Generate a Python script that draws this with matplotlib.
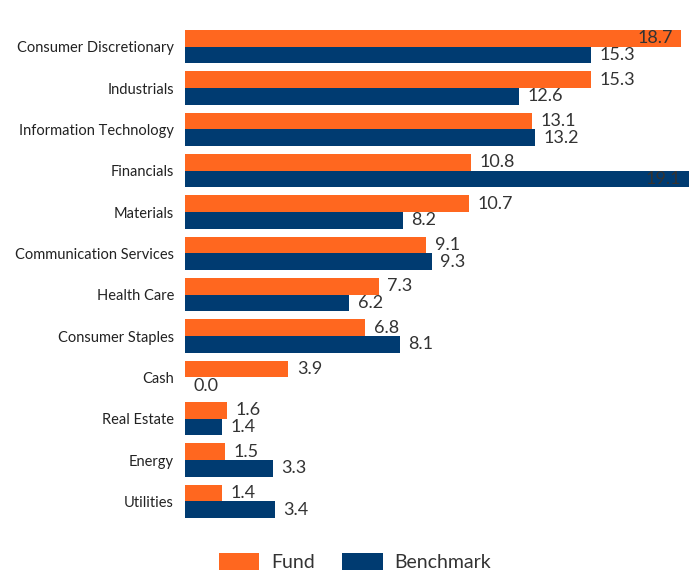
import matplotlib.pyplot as plt
import numpy as np

categories = ['Consumer Discretionary', 'Industrials', 'Information Technology',
              'Financials', 'Materials', 'Communication Services', 'Health Care',
              'Consumer Staples', 'Cash', 'Real Estate', 'Energy', 'Utilities']
fund = [18.7, 15.3, 13.1, 10.8, 10.7, 9.1, 7.3, 6.8, 3.9, 1.6, 1.5, 1.4]
benchmark = [15.3, 12.6, 13.2, 19.1, 8.2, 9.3, 6.2, 8.1, 0.0, 1.4, 3.3, 3.4]

plt.rcParams['font.family'] = ['Lato', 'DejaVu Sans']

fund_color = '#FF671F'
bench_color = '#003B71'
text_color = '#333333'

fig = plt.figure(figsize=(6.89, 5.72), dpi=100)
ax = fig.add_axes([0.2685, 0.0874, 0.7315, 0.8671])

y = np.arange(len(categories))
h = 0.4
xmax = 19.0

ax.barh(y - h / 2, fund, height=h, color=fund_color, label='Fund')
ax.barh(y + h / 2, benchmark, height=h, color=bench_color, label='Benchmark')

for i, (f, b) in enumerate(zip(fund, benchmark)):
    for v, yy in ((f, y[i] - h / 2), (b, y[i] + h / 2)):
        if v > xmax - 1.2:
            # no room past the bar end, tuck label inside the right edge
            x = min(v, xmax) - 0.3
            ax.annotate(f'{v:.1f}', (x, yy), ha='right', va='center',
                        fontsize=13, color=text_color)
        else:
            ax.annotate(f'{v:.1f}', (v, yy), xytext=(6, 0), textcoords='offset points',
                        ha='left', va='center', fontsize=13, color=text_color)

ax.set_yticks(y)
ax.set_yticklabels(categories, fontsize=10.5, color='#222222')
ax.tick_params(axis='y', length=0, pad=8)
ax.set_xticks([])
ax.set_xlim(0, xmax)
ax.set_ylim(len(categories) - 0.5, -0.5)
for s in ax.spines.values():
    s.set_visible(False)

fig.legend(loc='center', bbox_to_anchor=(355 / 689, 1 - 562 / 572), ncol=2,
           frameon=False, fontsize=14, handlelength=2.1, handleheight=1.0,
           columnspacing=1.4, handletextpad=0.6, labelcolor=text_color)

fig.savefig('out.png', dpi=100)
